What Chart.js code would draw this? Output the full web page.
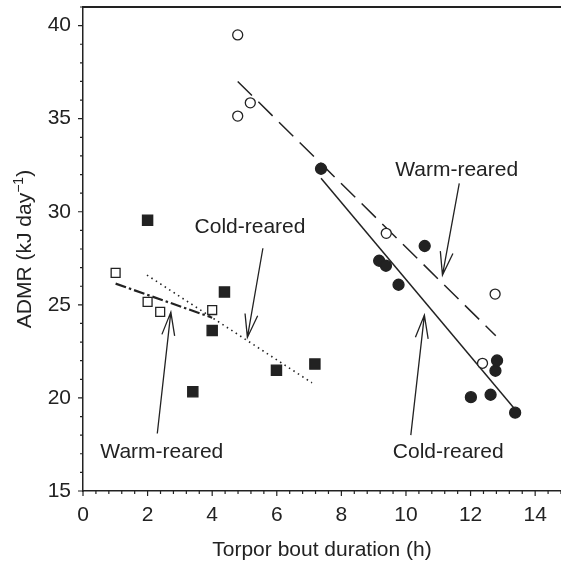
<!DOCTYPE html>
<html>
<head>
<meta charset="utf-8">
<script src="https://cdn.jsdelivr.net/npm/chart.js@4.4.1/dist/chart.umd.min.js"></script>
<style>
  html, body { margin: 0; padding: 0; background: #fff; overflow: hidden; }
  #admr { display: block; position: absolute; left: 0; top: 0; }
</style>
</head>
<body>
<canvas id="admr" width="561" height="563"></canvas>
<script>
const FONT = "'Liberation Sans', Arial, sans-serif";
const INK = "#222";
const FS = 21;

// warm-reared, long bouts (open circles)
const warmLongX = [4.79, 4.79, 5.18, 9.39, 12.37, 12.76];
const warmLongY = [39.5, 35.14, 35.85, 28.84, 21.86, 25.58];
// cold-reared, long bouts (filled circles)
const coldLongX = [7.37, 9.17, 9.38, 9.77, 10.58, 12.01, 12.62, 12.77, 12.82, 13.38];
const coldLongY = [32.31, 27.37, 27.1, 26.08, 28.16, 20.04, 20.17, 21.46, 22.01, 19.21];
// warm-reared, short bouts (open squares)
const warmShortX = [1.01, 2.0, 2.39, 4.0];
const warmShortY = [26.72, 25.16, 24.62, 24.72];
// cold-reared, short bouts (filled squares)
const coldShortX = [2.0, 3.4, 4.0, 4.38, 5.99, 7.18];
const coldShortY = [29.55, 20.33, 23.62, 25.69, 21.49, 21.82];

// regression lines, end points
const warmLongFitX = [4.79, 12.78];
const warmLongFitY = [37.0, 23.34];
const coldLongFitX = [7.37, 13.38];
const coldLongFitY = [31.8, 19.38];
const warmShortFitX = [1.01, 4.0];
const warmShortFitY = [26.14, 24.31];
const coldShortFitX = [1.98, 7.09];
const coldShortFitY = [26.6, 20.81];

// annotations: label text, label centre, arrow tail -> arrow tip
const noteText = ["Warm-reared", "Cold-reared", "Cold-reared", "Warm-reared"];
const noteX = [11.57, 11.31, 5.17, 2.44];
const noteY = [32.33, 17.16, 29.25, 17.15];
const arrowFromX = [11.65, 10.15, 5.57, 2.3];
const arrowFromY = [31.53, 18.0, 28.04, 18.09];
const arrowToX = [11.13, 10.57, 5.09, 2.72];
const arrowToY = [26.6, 24.45, 23.25, 24.61];

const xTicks = [0, 2, 4, 6, 8, 10, 12, 14];
const yTicks = [15, 20, 25, 30, 35, 40];
const xMinorStep = 0.4;
const yMinorStep = 1;

function pts(xs, ys) {
  return xs.map((v, i) => ({ x: v, y: ys[i] }));
}

function fitLine(xs, ys, dash, width) {
  return {
    data: pts(xs, ys),
    showLine: true,
    borderColor: INK,
    borderWidth: width,
    borderDash: dash,
    pointRadius: 0,
    order: 2,
  };
}

function marks(xs, ys, style, radius, fill) {
  return {
    data: pts(xs, ys),
    pointStyle: style,
    pointRadius: radius,
    pointBackgroundColor: fill,
    pointBorderColor: INK,
    pointBorderWidth: 1.3,
    order: 1,
  };
}

function arrow(ctx, x0, y0, x1, y1) {
  const ang = Math.atan2(y0 - y1, x0 - x1);
  const len = 24;
  const spread = 0.27;
  ctx.beginPath();
  ctx.moveTo(x0, y0);
  ctx.lineTo(x1, y1);
  ctx.moveTo(x1 + len * Math.cos(ang - spread), y1 + len * Math.sin(ang - spread));
  ctx.lineTo(x1, y1);
  ctx.lineTo(x1 + len * Math.cos(ang + spread), y1 + len * Math.sin(ang + spread));
  ctx.stroke();
}

function noPadding(s) {
  s.paddingTop = 0;
  s.paddingBottom = 0;
  s.paddingLeft = 0;
  s.paddingRight = 0;
}

const decor = {
  id: "decor",
  afterDraw(chart) {
    const { ctx, chartArea: a } = chart;
    const { x, y } = chart.scales;
    ctx.save();
    ctx.strokeStyle = INK;
    ctx.fillStyle = INK;

    // top frame line
    ctx.lineWidth = 2;
    ctx.beginPath();
    ctx.moveTo(a.left, a.top);
    ctx.lineTo(a.right, a.top);
    ctx.stroke();

    // tick marks, outward
    ctx.lineWidth = 1.2;
    ctx.beginPath();
    for (let i = 0; i * xMinorStep <= x.max + 1e-6; i++) {
      const v = Math.round(i * xMinorStep * 10) / 10;
      const px = x.getPixelForValue(v);
      const len = xTicks.includes(v) ? 5 : 3;
      ctx.moveTo(px, a.bottom);
      ctx.lineTo(px, a.bottom + len);
    }
    for (let v = y.min; v <= y.max; v += yMinorStep) {
      const py = y.getPixelForValue(v);
      const len = yTicks.includes(v) ? 5 : 3;
      ctx.moveTo(a.left, py);
      ctx.lineTo(a.left - len, py);
    }
    ctx.stroke();

    // arrows
    ctx.lineWidth = 1.3;
    for (let i = 0; i < arrowFromX.length; i++) {
      arrow(ctx,
        x.getPixelForValue(arrowFromX[i]), y.getPixelForValue(arrowFromY[i]),
        x.getPixelForValue(arrowToX[i]), y.getPixelForValue(arrowToY[i]));
    }

    // annotation labels
    ctx.font = FS + "px " + FONT;
    ctx.textAlign = "center";
    ctx.textBaseline = "alphabetic";
    for (let i = 0; i < noteText.length; i++) {
      ctx.fillText(noteText[i], x.getPixelForValue(noteX[i]), y.getPixelForValue(noteY[i]) + 7.5);
    }

    // x title
    ctx.fillText("Torpor bout duration (h)", (a.left + a.right) / 2, 556);

    // y title with superscript
    ctx.translate(31, (a.top + a.bottom) / 2);
    ctx.rotate(-Math.PI / 2);
    const main = "ADMR (kJ day";
    const sup = "\u22121";
    const close = ")";
    ctx.font = FS + "px " + FONT;
    const wMain = ctx.measureText(main).width;
    const wClose = ctx.measureText(close).width;
    ctx.font = "14px " + FONT;
    const wSup = ctx.measureText(sup).width;
    let cx = -(wMain + wSup + wClose) / 2;
    ctx.textAlign = "left";
    ctx.font = FS + "px " + FONT;
    ctx.fillText(main, cx, 0);
    cx += wMain;
    ctx.font = "14px " + FONT;
    ctx.fillText(sup, cx, -8);
    cx += wSup;
    ctx.font = FS + "px " + FONT;
    ctx.fillText(close, cx, 0);

    ctx.restore();
  },
};

new Chart(document.getElementById("admr"), {
  type: "scatter",
  data: {
    datasets: [
      fitLine(warmLongFitX, warmLongFitY, [20, 9], 1.5),
      fitLine(coldLongFitX, coldLongFitY, [], 1.5),
      fitLine(warmShortFitX, warmShortFitY, [11, 3, 2.5, 3], 2.2),
      fitLine(coldShortFitX, coldShortFitY, [1.5, 3.8], 1.6),
      marks(warmLongX, warmLongY, "circle", 5, "#fff"),
      marks(coldLongX, coldLongY, "circle", 5.5, INK),
      marks(warmShortX, warmShortY, "rect", 6.3, "#fff"),
      marks(coldShortX, coldShortY, "rect", 7.2, INK),
    ],
  },
  options: {
    responsive: false,
    animation: false,
    devicePixelRatio: 1,
    layout: { autoPadding: false, padding: { top: 7, right: 0, left: 0, bottom: 0 } },
    plugins: {
      legend: { display: false },
      tooltip: { enabled: false },
    },
    scales: {
      x: {
        type: "linear",
        min: 0,
        max: 14.8,
        afterFit: (s) => { s.height = 72; noPadding(s); },
        afterBuildTicks: (s) => { s.ticks = xTicks.map((v) => ({ value: v })); },
        ticks: {
          stepSize: 2,
          includeBounds: false,
          color: INK,
          font: { family: FONT, size: FS },
          padding: 6,
          maxRotation: 0,
        },
        grid: { display: true, drawOnChartArea: false, tickLength: 6, tickColor: "rgba(0,0,0,0)" },
        border: { display: true, color: INK, width: 1.5 },
      },
      y: {
        type: "linear",
        min: 15,
        max: 41,
        afterFit: (s) => { s.width = 83; noPadding(s); },
        afterBuildTicks: (s) => { s.ticks = yTicks.map((v) => ({ value: v })); },
        ticks: {
          stepSize: 5,
          includeBounds: false,
          color: INK,
          font: { family: FONT, size: FS },
          padding: 6,
        },
        grid: { display: true, drawOnChartArea: false, tickLength: 6, tickColor: "rgba(0,0,0,0)" },
        border: { display: true, color: INK, width: 1.5 },
      },
    },
  },
  plugins: [decor],
});
</script>
</body>
</html>
